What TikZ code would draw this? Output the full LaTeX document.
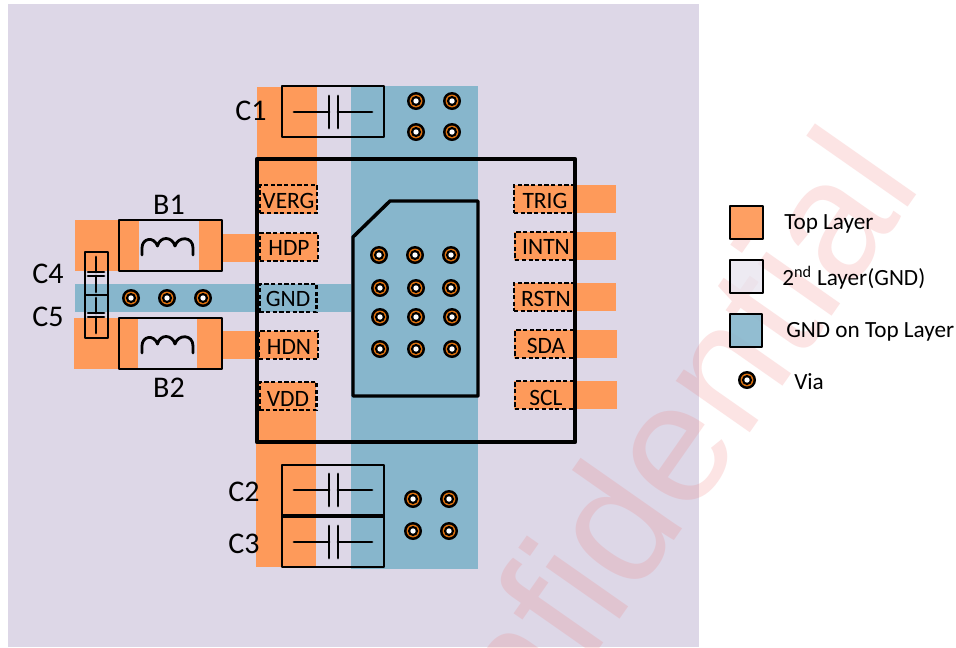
\documentclass[tikz,border=0pt]{standalone}
\usepackage{fontspec}
\setmainfont{Carlito}
\newfontfamily\wmfont{Liberation Sans}
\definecolor{board}{HTML}{DDD7E7}
\definecolor{toplayer}{HTML}{FE9A5A}
\definecolor{gndtop}{HTML}{87B6CC}
\definecolor{viaring}{HTML}{E0730F}
\definecolor{wmark}{RGB}{240,120,120}
\tikzset{
  x=0.75pt,y=-0.75pt,
  comp/.style={draw=black,line width=2.2pt,line join=round},
  sym/.style={draw=black,line width=2.1pt,line cap=round,line join=round},
  pinbox/.style={draw=black,line width=1.8pt,dash pattern=on 3.2pt off 1.8pt,line cap=butt},
  pin/.style={font=\fontsize{17.6}{20}\selectfont,inner sep=0pt,text=black},
  lab/.style={font=\fontsize{22.5}{24}\selectfont,inner sep=0pt,text=black},
  leg/.style={font=\fontsize{17.4}{19}\selectfont,inner sep=0pt,text=black,anchor=west},
  legbox/.style={draw=black,line width=2.1pt,line join=round},
}
\newcommand{\via}[2]{%
  \fill[black] (#1,#2) circle[radius=9];
  \fill[viaring] (#1,#2) circle[radius=6.4];
  \fill[black] (#1,#2) circle[radius=5.1];
  \fill[white] (#1,#2) circle[radius=2.7];
}
\newcommand{\coil}[1]{%
  \draw[sym,shift={(0,#1)}] (142,255) -- (142,248)
    .. controls (142,238) and (154,236) .. (157.5,246)
    .. controls (160,236) and (172,236) .. (175,246)
    .. controls (178,236) and (193,236) .. (193,248) -- (193,255);
}
\newcommand{\hcap}[1]{%
  \draw[sym] (294,#1) -- (329,#1);
  \draw[sym] (338,#1) -- (372,#1);
  \draw[sym] (329,#1-16) -- (329,#1+16);
  \draw[sym] (338,#1-16) -- (338,#1+16);
}
\newcommand{\vcap}[1]{%
  \draw[sym] (96,#1) -- (96,#1+15);
  \draw[sym] (96,#1+19) -- (96,#1+35);
  \draw[sym] (88,#1+15) -- (104,#1+15);
  \draw[sym] (88,#1+19) -- (104,#1+19);
}
\begin{document}
\begin{tikzpicture}
\useasboundingbox (0,0) rectangle (956,647);
\clip (0,0) rectangle (956,647);
\fill[white] (0,0) rectangle (956,647);
\fill[board] (8,4) rectangle (699,647);
% watermark
\node[anchor=base east,rotate=55,inner sep=0pt,text=wmark,text opacity=0.2,
  font=\wmfont\fontsize{128}{140}\selectfont\addfontfeatures{Ligatures=NoCommon}] (wm) at (923.6,185.5) {Confidential};
% copper
\fill[gndtop] (351,86) rectangle (478,569);
\fill[gndtop] (75,284) rectangle (351,312);
\fill[toplayer] (257,87) rectangle (317,214);
\fill[toplayer] (256,382) rectangle (316,567);
\fill[toplayer] (75,220) rectangle (139,271);
\fill[toplayer] (199,220) rectangle (222,271);
\fill[toplayer] (74,318) rectangle (138,369);
\fill[toplayer] (197,318) rectangle (222,369);
\fill[toplayer] (222,234) rectangle (260,262);
\fill[toplayer] (222,331) rectangle (260,359);
\foreach \yy/\xe in {185/616,232/616,283/616,330/617,381/617}
  \fill[toplayer] (514,\yy) rectangle (\xe,\yy+28);
\fill[toplayer] (260,233) rectangle (318,261);
\fill[toplayer] (259,331) rectangle (318,359);
% dashed pins
\node[pinbox,minimum width=42.5pt,minimum height=21pt,inner sep=0pt] (verg) at (288.5,199) {};
\node[pinbox,minimum width=43.5pt,minimum height=21pt,inner sep=0pt] (hdp) at (289,247) {};
\node[pinbox,minimum width=43pt,minimum height=21pt,inner sep=0pt] (gnd) at (288,298) {};
\node[pinbox,minimum width=44pt,minimum height=21pt,inner sep=0pt] (hdn) at (288.5,345) {};
\node[pinbox,minimum width=43pt,minimum height=21pt,inner sep=0pt] (vdd) at (288,396) {};
\node[pinbox,minimum width=45pt,minimum height=21pt,inner sep=0pt] (trig) at (544,199) {};
\node[pinbox,minimum width=44pt,minimum height=21pt,inner sep=0pt] (intn) at (544.5,246) {};
\node[pinbox,minimum width=45pt,minimum height=21pt,inner sep=0pt] (rstn) at (544,297) {};
\node[pinbox,minimum width=44pt,minimum height=21pt,inner sep=0pt] (sda) at (544.5,344) {};
\node[pinbox,minimum width=44pt,minimum height=21pt,inner sep=0pt] (scl) at (544.5,395) {};
\node[pin] (tverg) at (288.5,201) {VERG};
\node[pin] (thdp) at (289,248) {HDP};
\node[pin] (tgnd) at (288,299) {GND};
\node[pin] (thdn) at (289,347) {HDN};
\node[pin] (tvdd) at (288,399) {VDD};
\node[pin] (ttrig) at (545,201) {TRIG};
\node[pin] (tintn) at (546,247) {INTN};
\node[pin] (trstn) at (546,299) {RSTN};
\node[pin] (tsda) at (546,346) {SDA};
\node[pin] (tscl) at (546,398) {SCL};
% chip outline
\draw[black,line width=3.2pt,line join=round] (257,159) rectangle (575,442);
\draw[black,line width=2.6pt,line join=round] (353,237) -- (390,201) -- (478,201) -- (478,396) -- (353,396) -- cycle;
% capacitors
\draw[comp] (282,86) rectangle (384,137);
\hcap{112}
\draw[comp] (282,465) rectangle (384,516);
\draw[comp] (282,516) rectangle (384,567);
\draw[black,line width=3pt] (282,516) -- (384,516);
\hcap{490}
\hcap{542}
% ferrite beads
\draw[comp] (119,220) rectangle (222,271);
\draw[comp] (119,318) rectangle (222,369);
\coil{0}
\coil{98}
% C4 C5
\draw[comp] (85,252) rectangle (108,338);
\draw[comp] (85,295) -- (108,295);
\vcap{257}
\vcap{298}
% vias
\foreach \xx/\yy in {416/101,452/101,416/132,452/132,
  413/499,449/499,413/531,449/531,
  131/298,167/298,203/298,
  379/255,415/255,451/255,
  380/288,416/288,451/288,
  380/317,416/317,452/317,
  380/349,416/349,452/349,
  747/380}
  {\via{\xx}{\yy}}
% labels
\node[lab] (c1) at (251,111) {C1};
\node[lab] (c2) at (244,492) {C2};
\node[lab] (c3) at (244,544) {C3};
\node[lab] (c4) at (48,274) {C4};
\node[lab] (c5) at (48,317) {C5};
\node[lab] (b1) at (169,205) {B1};
\node[lab] (b2) at (169,388) {B2};
% legend
\draw[legbox,fill=toplayer,fill opacity=0.95] (730,206) rectangle (763,239);
\fill[white,opacity=0.45] (730,260) rectangle (763,293);
\fill[board,opacity=0.5] (730,260) rectangle (763,293);
\draw[legbox] (730,260) rectangle (763,293);
\draw[legbox,fill=gndtop,fill opacity=0.9] (730,314) rectangle (762,347);
\node[leg] (l1) at (784,224) {Top Layer};
\node[leg] (l2) at (782,278) {2\textsuperscript{nd} Layer(GND)};
\node[leg] (l3) at (786,332) {GND on Top Layer};
\node[leg] (l4) at (794,382) {Via};
\end{tikzpicture}
\end{document}
